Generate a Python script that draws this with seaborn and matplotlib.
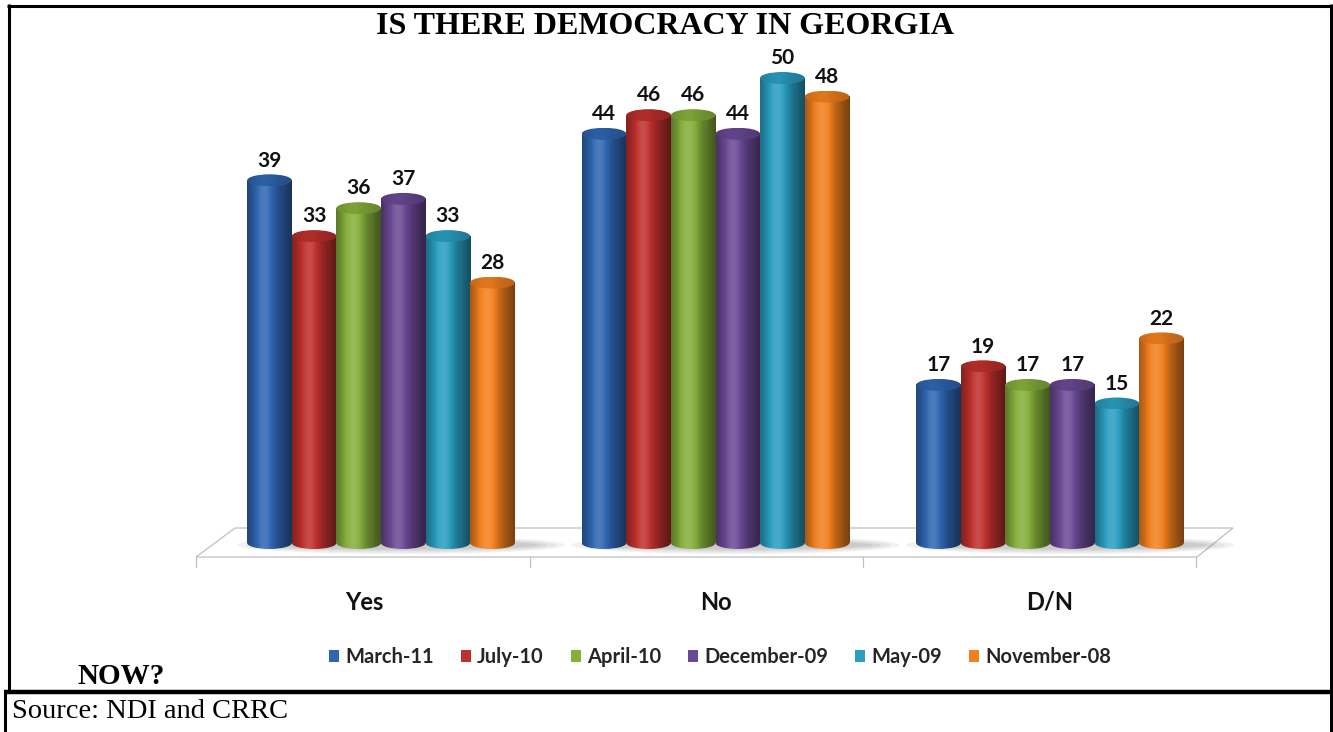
import numpy as np
import pandas as pd
import matplotlib
matplotlib.use("Agg")
import matplotlib.pyplot as plt
import seaborn as sns
from matplotlib.patches import Ellipse, Polygon, Patch
from matplotlib.lines import Line2D
from matplotlib.transforms import ScaledTranslation

# ---------------- data ----------------
answers = ["Yes", "No", "D/N"]
periods = ["March-11", "July-10", "April-10", "December-09", "May-09", "November-08"]
march_11 = [39, 44, 17]
july_10 = [33, 46, 19]
april_10 = [36, 46, 17]
december_09 = [37, 44, 17]
may_09 = [33, 50, 15]
november_08 = [28, 48, 22]
colors = ["#2F66B1", "#BE302D", "#86AE3B", "#6A4994", "#2A9DC0", "#F2801E"]
title = "IS THERE DEMOCRACY IN GEORGIA"
subtitle = "NOW?"
source = "Source: NDI and CRRC"

series = [march_11, july_10, april_10, december_09, may_09, november_08]
df = pd.DataFrame(
    [(a, p, v[i]) for p, v in zip(periods, series) for i, a in enumerate(answers)],
    columns=["answer", "period", "value"],
)

# ---------------- style ----------------
sns.set_theme(style="white")
plt.rcParams["font.family"] = ["Lato", "DejaVu Sans"]

W, H = 1333, 732
fig = plt.figure(figsize=(W / 100, H / 100), dpi=100)
fig.patch.set_facecolor("white")


def fx(x):
    return x / W


def fy(y):
    return 1 - y / H


# axes: value 0 at y=543px, 9.3 px per unit; category 0 at x=381px, 334.5 px per category
px_unit = 9.3
ymin, ymax = -2, 55
x_left = 381 - 0.5 * 334.5
ax_w = 3 * 334.5
y_bottom = 543 - ymin * px_unit
ax = fig.add_axes([fx(x_left), fy(y_bottom), ax_w / W, (ymax - ymin) * px_unit / H])
ax.patch.set_alpha(0)

sns.barplot(data=df, x="answer", y="value", hue="period", order=answers,
            hue_order=periods, palette=colors, width=0.8, saturation=1,
            errorbar=None, legend=False, linewidth=0, ax=ax)


def shade(rgb, f):
    rgb = np.asarray(rgb[:3])
    if f <= 1:
        return rgb * f
    return rgb + (1 - rgb) * (f - 1)


t = np.linspace(0, 1, 80)
prof = 0.62 + 0.52 * np.exp(-((t - 0.38) / 0.28) ** 2) - 0.12 * (t > 0.8) * (t - 0.8) / 0.2
ell_h = 12 / px_unit

z = 3
for container in ax.containers:
    for bar in container:
        x0 = bar.get_x()
        w = bar.get_width()
        h = bar.get_height()
        base = bar.get_facecolor()
        bar.set_alpha(0)
        grad = np.array([[shade(base, f) for f in prof]])
        # bottom cap
        be = Ellipse((x0 + w / 2, 0), w, ell_h, facecolor="none", edgecolor="none")
        ax.add_patch(be)
        im = ax.imshow(grad, extent=(x0, x0 + w, -ell_h / 2, ell_h / 2), aspect="auto",
                       interpolation="bilinear", zorder=z)
        im.set_clip_path(be)
        # body
        ax.imshow(grad, extent=(x0, x0 + w, 0, h), aspect="auto",
                  interpolation="bilinear", zorder=z + 0.1)
        # top cap
        top_grad = np.array([[shade(base, 0.8 + 0.25 * (f - 0.62)) for f in prof]])
        te = Ellipse((x0 + w / 2, h), w, ell_h, facecolor="none", edgecolor="none")
        ax.add_patch(te)
        im2 = ax.imshow(top_grad, extent=(x0, x0 + w, h - ell_h / 2, h + ell_h / 2),
                        aspect="auto", interpolation="bilinear", zorder=z + 0.2)
        im2.set_clip_path(te)
        z += 0.5
    ax.bar_label(container, padding=7, fontsize=15, fontweight="bold",
                 color="#111111", zorder=50)

ax.set_xlim(-0.5, 2.5)
ax.set_ylim(ymin, ymax)
for s in ax.spines.values():
    s.set_visible(False)
ax.set_yticks([])
ax.set_xlabel("")
ax.set_ylabel("")
ax.tick_params(axis="x", length=0, pad=21, labelsize=17)
xlabs = ax.get_xticklabels()
for lab in xlabs:
    lab.set_fontweight("bold")
    lab.set_color("#111111")
# the first category label sits at the front of the 3-D floor segment
xlabs[0].set_transform(xlabs[0].get_transform() + ScaledTranslation(-0.17, 0, fig.dpi_scale_trans))

# ---------------- floor (decoration) ----------------
floor = [(235, 528), (1233, 528), (1197, 557), (196, 557)]
fig.add_artist(Polygon([(fx(x), fy(y)) for x, y in floor], closed=True,
                       facecolor="white", edgecolor="#BFBFBF", linewidth=0.9,
                       transform=fig.transFigure, zorder=-2))
for i in range(3):
    gx0 = 381 + i * 334.5 - 134
    gx1 = 381 + i * 334.5 + 134
    for k, a in enumerate([0.10, 0.10, 0.12, 0.14]):
        sh = Ellipse((fx((gx0 + gx1) / 2 + 20), fy(545)), (gx1 - gx0 + 60 - k * 18) / W,
                     (18 - k * 3) / H, facecolor="#7F7F7F", edgecolor="none", alpha=a,
                     transform=fig.transFigure, zorder=-1)
        fig.add_artist(sh)
for x in [196, 530, 863, 1196]:
    fig.add_artist(Line2D([fx(x), fx(x)], [fy(557), fy(567)], color="#BFBFBF",
                          linewidth=0.9, transform=fig.transFigure, zorder=-1))

# ---------------- texts ----------------
fig.text(fx(665), fy(27), title, ha="center", va="center", fontsize=23,
         fontweight="bold", family=["Liberation Serif", "DejaVu Serif"], color="black")
fig.text(fx(78), fy(676), subtitle, ha="left", va="center", fontsize=21,
         fontweight="bold", family=["Liberation Serif", "DejaVu Serif"], color="black")
fig.text(fx(12), fy(712), source, ha="left", va="center", fontsize=20.5,
         family=["Liberation Serif", "DejaVu Serif"], color="black")

handles = [Patch(facecolor=c, edgecolor="none") for c in colors]
leg = fig.legend(handles, periods, ncol=6, loc="center", bbox_to_anchor=(fx(720), fy(657)),
                 frameon=False, handlelength=0.5, handleheight=0.5, handletextpad=0.3,
                 columnspacing=1.35, prop={"family": "Lato", "weight": "bold", "size": 14.5})

# ---------------- page borders ----------------
def hline(y, x0, x1, lw):
    fig.add_artist(Line2D([fx(x0), fx(x1)], [fy(y), fy(y)], color="black", linewidth=lw,
                          transform=fig.transFigure, zorder=10, solid_capstyle="butt"))


def vline(x, y0, y1, lw):
    fig.add_artist(Line2D([fx(x), fx(x)], [fy(y0), fy(y1)], color="black", linewidth=lw,
                          transform=fig.transFigure, zorder=10, solid_capstyle="butt"))


hline(5.5, 7, 1332, 2.2)
vline(8.5, 4, 692, 2.2)
vline(1330.5, 4, 732, 2.2)
hline(691.5, 4, 1332, 3.2)
vline(5, 690, 732, 2.2)

fig.savefig("out.png", dpi=100, facecolor="white")
